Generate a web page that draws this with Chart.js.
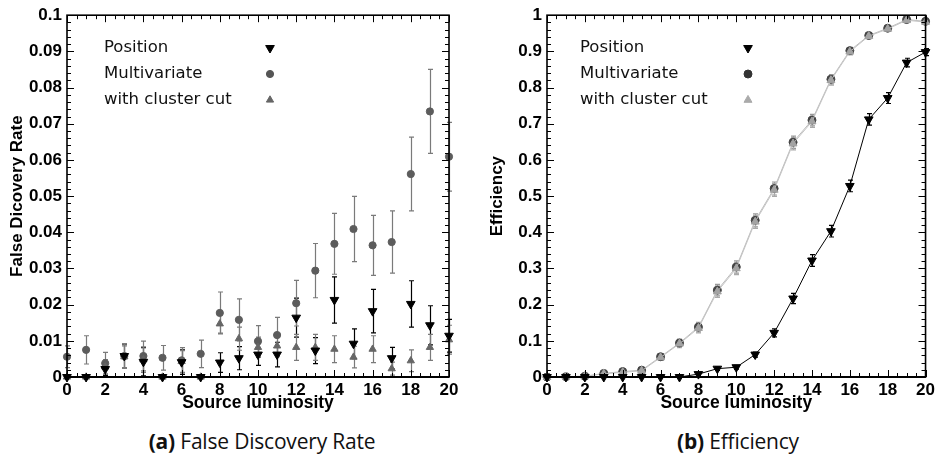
<!DOCTYPE html>
<html>
<head>
<meta charset="utf-8">
<script src="https://cdn.jsdelivr.net/npm/chart.js@4.4.1/dist/chart.umd.min.js"></script>
<style>
  body { margin: 0; background: #fff; width: 938px; height: 463px; overflow: hidden; position: relative; }
  #fdr { position: absolute; left: 0; top: 0; }
  #eff { position: absolute; left: 480px; top: 0; }
  .cap { position: absolute; top: 427px; font-family: "Open Sans", sans-serif; font-size: 21px; line-height: 28px;
         color: #111; white-space: nowrap; transform: translateX(-50%); letter-spacing: -0.2px; }
  .cap b { font-weight: 700; }
</style>
</head>
<body>
<canvas id="fdr" width="469" height="420"></canvas>
<canvas id="eff" width="458" height="420"></canvas>
<div class="cap" style="left:262px"><b>(a)</b> False Discovery Rate</div>
<div class="cap" style="left:738px"><b>(b)</b> Efficiency</div>
<script>
// Source luminosity bins
const luminosity = [0,1,2,3,4,5,6,7,8,9,10,11,12,13,14,15,16,17,18,19,20];
const seriesNames = ['Position', 'Multivariate', 'with cluster cut'];

// False discovery rate
const fdrPosition       = [0, 0, 0.0022, 0.0058, 0.0042, 0, 0.0041, 0, 0.0040, 0.0052, 0.0062, 0.0062, 0.0164, 0.0073, 0.0213, 0.0092, 0.0182, 0.0052, 0.0202, 0.0143, 0.0114];
const fdrPositionErr    = [0, 0, 0.0018, 0.0033, 0.0039, 0, 0.0034, 0, 0.0027, 0.0032, 0.0030, 0.0034, 0.0054, 0.0036, 0.0064, 0.0041, 0.0060, 0.0030, 0.0064, 0.0054, 0.0045];
const fdrMultivariate   = [0.0056, 0.0075, 0.0038, 0.0058, 0.0058, 0.0053, 0.0046, 0.0064, 0.0177, 0.0158, 0.0099, 0.0116, 0.0204, 0.0294, 0.0368, 0.0409, 0.0364, 0.0373, 0.0561, 0.0734, 0.0609];
const fdrMultivariateErr= [0.0030, 0.0039, 0.0030, 0.0033, 0.0041, 0.0034, 0.0035, 0.0038, 0.0058, 0.0058, 0.0043, 0.0049, 0.0063, 0.0075, 0.0084, 0.0090, 0.0083, 0.0086, 0.0102, 0.0116, 0.0095];
const fdrCluster        = [0, 0, 0.0028, 0.0056, 0.0048, 0, 0.0043, 0, 0.0147, 0.0106, 0.0082, 0.0086, 0.0082, 0.0082, 0.0077, 0.0055, 0.0077, 0.0023, 0.0045, 0.0082, 0.0103];
const fdrClusterErr     = [0, 0, 0.0020, 0.0030, 0.0035, 0, 0.0030, 0, 0.0026, 0.0032, 0.0028, 0.0030, 0.0036, 0.0036, 0.0037, 0.0030, 0.0037, 0.0018, 0.0030, 0.0036, 0.0040];

// Efficiency
const effPosition       = [0, 0, 0, 0, 0, 0, 0, 0, 0.008, 0.023, 0.027, 0.062, 0.122, 0.217, 0.322, 0.403, 0.528, 0.712, 0.771, 0.869, 0.898];
const effPositionErr    = [0, 0, 0, 0, 0, 0, 0, 0, 0.003, 0.005, 0.005, 0.007, 0.011, 0.014, 0.016, 0.016, 0.016, 0.016, 0.015, 0.012, 0.010];
const effMultivariate   = [0, 0.001, 0.002, 0.010, 0.015, 0.019, 0.056, 0.094, 0.138, 0.240, 0.304, 0.433, 0.521, 0.649, 0.710, 0.823, 0.902, 0.944, 0.964, 0.988, 0.983];
const effMultivariateErr= [0, 0, 0.001, 0.003, 0.004, 0.006, 0.008, 0.011, 0.013, 0.016, 0.017, 0.018, 0.018, 0.017, 0.016, 0.013, 0.009, 0.007, 0.005, 0.003, 0.003];
const effCluster        = [0, 0.001, 0.002, 0.009, 0.013, 0.017, 0.054, 0.092, 0.135, 0.236, 0.300, 0.429, 0.517, 0.645, 0.706, 0.820, 0.899, 0.942, 0.962, 0.986, 0.981];
const effClusterErr     = [0, 0, 0.001, 0.003, 0.004, 0.006, 0.008, 0.011, 0.013, 0.016, 0.017, 0.018, 0.018, 0.017, 0.016, 0.013, 0.009, 0.007, 0.005, 0.003, 0.003];

const pts = vals => luminosity.map((x, i) => ({ x, y: vals[i] }));

Chart.defaults.font.family = '"Liberation Sans", Arial, sans-serif';
Chart.defaults.color = '#000';

// vertical error bars with small caps, drawn under the markers
const errorBars = {
  id: 'errorBars',
  beforeDatasetsDraw(chart) {
    const { ctx, scales: { x, y } } = chart;
    ctx.save();
    chart.data.datasets.forEach(ds => {
      if (!ds.errors) return;
      ctx.strokeStyle = ds.errorColor;
      ctx.lineWidth = 1.2;
      ds.data.forEach((p, i) => {
        const e = ds.errors[i];
        if (!e) return;
        const px = Math.round(x.getPixelForValue(p.x)) + 0.5;
        const y1 = y.getPixelForValue(Math.max(0, p.y - e));
        const y2 = y.getPixelForValue(p.y + e);
        ctx.beginPath();
        ctx.moveTo(px, y1); ctx.lineTo(px, y2);
        ctx.moveTo(px - 2.5, y1); ctx.lineTo(px + 2.5, y1);
        ctx.moveTo(px - 2.5, y2); ctx.lineTo(px + 2.5, y2);
        ctx.stroke();
      });
    });
    ctx.restore();
  }
};

// frame with inward major/minor ticks on all four sides
const frameTicks = {
  id: 'frameTicks',
  afterDatasetsDraw(chart, args, o) {
    const { ctx, chartArea: { left, right, top, bottom }, scales: { x, y } } = chart;
    ctx.save();
    ctx.strokeStyle = '#000';
    ctx.lineWidth = 1;
    ctx.beginPath();
    const nx = Math.round((x.max - x.min) / o.xMinor);
    for (let k = 0; k <= nx; k++) {
      const v = x.min + k * o.xMinor;
      const px = Math.round(x.getPixelForValue(v)) + 0.5;
      const len = (k % o.xPer === 0) ? 7 : 4;
      ctx.moveTo(px, bottom); ctx.lineTo(px, bottom - len);
      ctx.moveTo(px, top); ctx.lineTo(px, top + len);
    }
    const ny = Math.round((y.max - y.min) / o.yMinor);
    for (let k = 0; k <= ny; k++) {
      const v = y.min + k * o.yMinor;
      const py = Math.round(y.getPixelForValue(v)) + 0.5;
      const len = (k % o.yPer === 0) ? 7 : 4;
      ctx.moveTo(left, py); ctx.lineTo(left + len, py);
      ctx.moveTo(right, py); ctx.lineTo(right - len, py);
    }
    ctx.stroke();
    ctx.lineWidth = 1.6;
    ctx.strokeRect(left, top, right - left, bottom - top);
    ctx.lineWidth = 2.2;
    ctx.beginPath();
    ctx.moveTo(left, bottom); ctx.lineTo(right, bottom);
    ctx.stroke();
    ctx.restore();
  }
};

// legend: label text followed by the series marker
const markerLegend = {
  id: 'markerLegend',
  afterDraw(chart, args, o) {
    const { ctx } = chart;
    ctx.save();
    ctx.font = '16.5px "DejaVu Sans", sans-serif';
    ctx.textBaseline = 'middle';
    ctx.textAlign = 'left';
    chart.data.datasets.forEach((ds, i) => {
      const yy = o.y + i * o.dy;
      ctx.fillStyle = '#111';
      ctx.fillText(ds.label, o.textX, yy);
      ctx.fillStyle = o.colors[i];
      ctx.strokeStyle = o.colors[i];
      Chart.helpers.drawPoint(ctx, {
        pointStyle: ds.pointStyle, radius: ds.pointRadius, rotation: ds.pointRotation || 0, borderWidth: 1
      }, o.markX, yy);
    });
    ctx.restore();
  }
};

function makeOptions(yMax, yStep, yDigits, yTitle, rightPad, legendColors, yMinor) {
  return {
    responsive: false,
    devicePixelRatio: 1,
    animation: false,
    layout: { padding: { top: 12, right: rightPad, bottom: 0, left: 0 }, autoPadding: false },
    plugins: {
      legend: { display: false },
      tooltip: { enabled: false },
      frameTicks: { xMinor: 0.5, xPer: 4, yMinor: yMinor, yPer: 5 },
      markerLegend: { textX: 104, markX: 270, y: 48, dy: 26, colors: legendColors }
    },
    scales: {
      x: {
        type: 'linear', min: 0, max: 20,
        grid: { display: false, drawTicks: false },
        border: { display: false },
        ticks: { stepSize: 2, autoSkip: false, maxRotation: 0, padding: 3,
                 font: { size: 17, weight: 'bold' } },
        title: { display: true, text: 'Source luminosity', font: { size: 17.5, weight: 'bold' },
                 padding: { top: 0, bottom: 6 } },
        afterFit(s) { s.height = 43; }
      },
      y: {
        type: 'linear', min: 0, max: yMax,
        grid: { display: false, drawTicks: false },
        border: { display: false },
        ticks: { stepSize: yStep, autoSkip: false, padding: 5,
                 font: { size: 17, weight: 'bold' },
                 callback: v => String(Number(v.toFixed(yDigits))) },
        title: { display: true, text: yTitle, font: { size: 17, weight: 'bold' },
                 padding: { top: 7, bottom: 0 } },
        afterFit(s) { s.width = 67; }
      }
    }
  };
}

new Chart(document.getElementById('fdr'), {
  type: 'line',
  data: {
    datasets: [
      { label: seriesNames[0], data: pts(fdrPosition), errors: fdrPositionErr, errorColor: '#000',
        showLine: false, pointStyle: 'triangle', pointRotation: 180, pointRadius: 5,
        backgroundColor: '#000', borderColor: '#000', borderWidth: 1, clip: false, order: 1 },
      { label: seriesNames[1], data: pts(fdrMultivariate), errors: fdrMultivariateErr, errorColor: '#7a7a7a',
        showLine: false, pointStyle: 'circle', pointRadius: 3.6,
        backgroundColor: '#5c5c5c', borderColor: '#5c5c5c', borderWidth: 1, clip: false, order: 3 },
      { label: seriesNames[2], data: pts(fdrCluster), errors: fdrClusterErr, errorColor: '#7a7a7a',
        showLine: false, pointStyle: 'triangle', pointRadius: 4.2,
        backgroundColor: '#666', borderColor: '#666', borderWidth: 1, clip: false, order: 2 }
    ]
  },
  options: makeOptions(0.1, 0.01, 2, 'False Dicovery Rate', 20, ['#000', '#555', '#666'], 0.002),
  plugins: [errorBars, frameTicks, markerLegend]
});

new Chart(document.getElementById('eff'), {
  type: 'line',
  data: {
    datasets: [
      { label: seriesNames[0], data: pts(effPosition), errors: effPositionErr, errorColor: '#000',
        showLine: true, borderColor: '#000', borderWidth: 1, tension: 0,
        pointStyle: 'triangle', pointRotation: 180, pointRadius: 5,
        pointBackgroundColor: '#000', pointBorderColor: '#000', clip: false, order: 1 },
      { label: seriesNames[1], data: pts(effMultivariate), errors: effMultivariateErr, errorColor: '#999',
        showLine: true, borderColor: '#bdbdbd', borderWidth: 1, tension: 0,
        pointStyle: 'circle', pointRadius: 4,
        pointBackgroundColor: '#444', pointBorderColor: '#444', clip: false, order: 3 },
      { label: seriesNames[2], data: pts(effCluster), errors: effClusterErr, errorColor: '#aaa',
        showLine: true, borderColor: '#c4c4c4', borderWidth: 1, tension: 0,
        pointStyle: 'triangle', pointRadius: 4.6,
        pointBackgroundColor: '#a3a3a3', pointBorderColor: '#a3a3a3', clip: false, order: 2 }
    ]
  },
  options: (() => {
    const o = makeOptions(1, 0.1, 1, 'Efficiency', 9, ['#000', '#333', '#aaa'], 0.02);
    o.plugins.markerLegend.textX = 100;
    o.plugins.markerLegend.markX = 268;
    return o;
  })(),
  plugins: [errorBars, frameTicks, markerLegend]
});
</script>
</body>
</html>
